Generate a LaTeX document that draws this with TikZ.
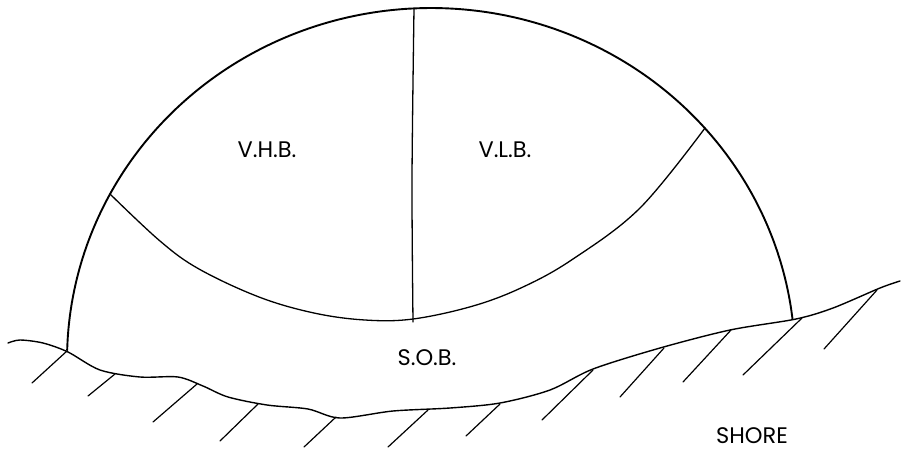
\documentclass[tikz,border=0pt]{standalone}
\usepackage{fontspec}
\setmainfont{Poppins}
\usetikzlibrary{calc}
\tikzset{
  domeline/.style={line width=1.9pt,line cap=round,line join=round},
  seamline/.style={line width=1.3pt,line cap=round,line join=round},
  groundline/.style={line width=1.4pt,line cap=round,line join=round},
  hatchline/.style={line width=1.2pt,line cap=round},
  zonelabel/.style={font=\fontsize{22.5}{26}\selectfont,inner sep=0pt}
}

\begin{document}
\begin{tikzpicture}[x=1pt,y=-1pt]
  \useasboundingbox (0,0) rectangle (904,456);
  % dome outline (half ellipse cut by the shore)
  \draw[domeline] plot[domain=6.7:178.4,samples=90,smooth] ({431+364*cos(\x)},{360-352*sin(\x)});
  \coordinate (crown) at (414,8.5);
  \coordinate (jointL) at (110,194);
  \coordinate (jointR) at (705,128);
  \coordinate (keel) at (413,322);
  % seams between the zones
  \draw[seamline] plot[smooth,tension=0.6] coordinates {(jointL) (160,241) (199,269) (259,297) (314,313) (365,320) (413,319) (473,306) (523,287) (573,259) (640,208) (jointR)};
  \draw[seamline] plot[smooth] coordinates {(crown) (412,180) (keel)};
  % shore line
  \draw[groundline] plot[smooth,tension=0.5] coordinates {(8,343) (20,340) (43,343) (68,352) (100,370) (140,377) (178,377) (203,386) (228,397) (267,405) (308,409) (340,418) (393,411) (450,408) (500,403) (550,390) (593,369) (660,348) (730,330) (796,319) (833,308) (880,288) (900,281)};
  % hatching
  \foreach \a/\b in {{(67,351)}/{(32,383)}, {(115,374)}/{(88,396)}, {(197,384)}/{(153,422)}, {(258,404)}/{(220,441)}, {(336,417)}/{(304,447)}, {(428,410)}/{(388,447)}, {(500,404)}/{(466,436)}, {(593,370)}/{(542,420)}, {(664,348)}/{(620,397)}, {(731,330)}/{(683,382)}, {(802,318)}/{(743,375)}, {(877,290)}/{(824,349)}}
    \draw[hatchline] \a -- \b;
  % labels
  \node[zonelabel] (vhb) at (267,150) {V.H.B.};
  \node[zonelabel] (vlb) at (505,150) {V.L.B.};
  \node[zonelabel] (sob) at (427,358) {S.O.B.};
  \node[zonelabel] (shore) at (752,436) {SHORE};
\end{tikzpicture}
\end{document}
